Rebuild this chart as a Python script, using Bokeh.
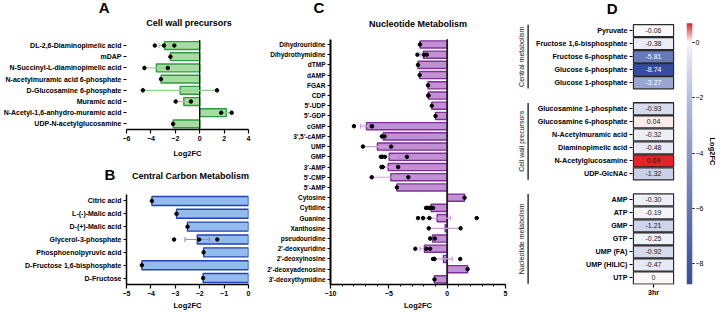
import numpy as np
from bokeh.plotting import figure
from bokeh.layouts import row, column
from bokeh.models import (ColumnDataSource, Range1d, FactorRange, FixedTicker,
                          SingleIntervalTicker, LinearColorMapper, Label)
from bokeh.transform import linear_cmap
from bokeh.core.properties import value
from bokeh.embed import file_html
from bokeh.resources import INLINE

FONT = "Liberation Sans"

# ---------------- Panel A: Cell wall precursors ----------------
a_names = ["DL-2,6-Diaminopimelic acid", "mDAP", "N-Succinyl-L-diaminopimelic acid",
           "N-acetylmuramic acid 6-phosphate", "D-Glucosamine 6-phosphate", "Muramic acid",
           "N-Acetyl-1,6-anhydro-muramic acid", "UDP-N-acetylglucosamine"]
a_mean = [-2.88, -2.40, -3.55, -3.17, -1.60, -1.30, 2.19, -2.18]
a_err = [0.45, 0.0, 0.96, 0.0, 3.05, 0.63, 0.43, 0.0]
a_points = [[-3.68, -2.93, -2.08], [-2.40], [-4.53, -2.61], [-3.17],
            [-4.66, 1.42], [-1.97, -0.72], [1.76, 2.62], [-2.18]]
a_ticks = [-6, -4, -2, 0, 2, 4]

# ---------------- Panel B: Central Carbon Metabolism ----------------
b_names = ["Citric acid", "L-(-)-Malic acid", "D-(+)-Malic acid", "Glycerol-3-phosphate",
           "Phosphoenolpyruvic acid", "D-Fructose 1,6-bisphosphate", "D-Fructose"]
b_mean = [-3.96, -2.95, -2.50, -2.10, -1.84, -4.37, -1.86]
b_err = [0.0, 0.0, 0.0, 0.50, 0.0, 0.0, 0.0]
b_points = [[-3.96], [-2.95], [-2.50], [-3.05, -2.02, -1.28], [-1.84], [-4.37], [-1.86]]
b_ticks = [-5, -4, -3, -2, -1, 0]

# ---------------- Panel C: Nucleotide Metabolism ----------------
c_names = ["Dihydrouridine", "Dihydrothymidine", "dTMP", "dAMP", "FGAR", "CDP", "5'-UDP",
           "5'-GDP", "cGMP", "3',5'-cAMP", "UMP", "GMP", "3'-AMP", "5'-CMP", "5'-AMP",
           "Cytosine", "Cytidine", "Guanine", "Xanthosine", "pseudouridine",
           "2'-deoxyuridine", "2'-deoxyinosine", "2'-deoxyadenosine", "3'-deoxythymidine"]
c_mean = [-2.33, -2.04, -2.50, -2.36, -1.64, -1.61, -1.32, -1.00, -6.92, -5.49, -5.98, -4.97,
          -5.06, -4.83, -4.31, 1.49, -1.38, -0.86, -0.17, -1.26, -1.95, -0.32, 1.75, -1.09]
c_err = [0, 0.24, 0, 0, 0, 0, 0, 0, 0.51, 0.12, 1.21, 0.53, 0.46, 1.57, 0, 0, 0.11, 1.16,
         1.37, 0.20, 0.38, 0.76, 0, 0]
c_points = [[-2.33], [-2.55, -1.98, -1.75], [-2.50], [-2.36], [-1.64], [-1.61, -1.61],
            [-1.32], [-1.00], [-7.99, -6.45, -6.45], [-5.60, -5.37], [-7.22, -4.80],
            [-5.60, -5.34, -5.69, -3.45], [-5.52, -5.63, -4.20], [-6.47, -3.33], [-4.31],
            [1.49], [-1.66, -1.35, -1.81, -1.44, -1.21], [-2.50, -2.07, -1.52, 2.53],
            [-1.58, 1.15], [-1.46, -1.06], [-2.73, -1.78, -1.46], [-1.09, -1.21, 1.12],
            [1.75], [-1.09]]

# ---------------- Panel D: heatmap ----------------
d_groups = ["Central metabolism", "Cell wall precursors", "Nucleotide metabolism"]
d_central = ["Pyruvate", "Fructose 1,6-bisphosphate", "Fructose 6-phosphate",
             "Glucose 6-phosphate", "Glucose 1-phosphate"]
d_central_vals = [-0.06, -0.38, -5.81, -8.74, -3.27]
d_cellwall = ["Glucosamine 1-phosphate", "Glucosamine 6-phosphate", "N-Acetylmuramic acid",
              "Diaminopimelic acid", "N-Acetylglucosamine", "UDP-GlcNAc"]
d_cellwall_vals = [-0.93, 0.04, -0.32, -0.48, 0.69, -1.32]
d_nucleo = ["AMP", "ATP", "GMP", "GTP", "UMP (FA)", "UMP (HILIC)", "UTP"]
d_nucleo_vals = [-0.30, -0.19, -1.21, -0.25, -0.92, -0.47, 0.0]
d_column = "3hr"
d_cbar_ticks = [-8, -6, -4, -2, 0]

TOP = 18  # common top border of the top-row figures (holds the panel letter)


def side_label(p, x, y, text, size):
    p.add_layout(Label(x=x, y=y, x_units="screen", y_units="screen", text=text,
                       text_font=FONT, text_font_size=size, text_font_style="bold",
                       text_color="black", text_align="center", text_baseline="middle"),
                 "above")


def frame_label(p, x, y, text, size):
    p.add_layout(Label(x=x, y=y, x_units="screen", y_units="screen", text=text,
                       text_font=FONT, text_font_size=size, text_font_style="bold",
                       text_color="black", text_align="center", text_baseline="middle"))


def style_axes(p, ylab_size, yline_width, xlab_standoff):
    for ax in p.xaxis:
        ax.major_label_text_font = FONT
        ax.major_label_text_font_size = "7px"
        ax.major_label_text_font_style = "bold"
        ax.major_label_text_color = "black"
        ax.major_label_standoff = 2
        ax.axis_label_text_font = FONT
        ax.axis_label_text_font_size = "7.5px"
        ax.axis_label_text_font_style = "bold"
        ax.axis_label_text_color = "black"
        ax.axis_label_standoff = xlab_standoff
        ax.axis_line_color = "black"
        ax.axis_line_width = 1.3
        ax.major_tick_line_color = "black"
        ax.major_tick_line_width = 1.2
        ax.major_tick_out = 4
        ax.major_tick_in = 0
        ax.minor_tick_line_color = None
    for ax in p.yaxis:
        ax.major_label_text_font = FONT
        ax.major_label_text_font_size = ylab_size
        ax.major_label_text_font_style = "bold"
        ax.major_label_text_color = "black"
        ax.major_label_standoff = 2
        ax.major_tick_line_color = "black"
        ax.major_tick_line_width = 1.1
        ax.major_tick_out = 3
        ax.major_tick_in = 0
        ax.minor_tick_line_color = None
        if yline_width:
            ax.axis_line_color = "black"
            ax.axis_line_width = yline_width
        else:
            ax.axis_line_color = None
    p.grid.visible = False
    p.outline_line_color = None


def bar_panel(names, means, errs, points, xr, w, h, borders, fill, edge, ecol,
              data_top_px=None, zero=None):
    bl, br, bt, bb = borders
    n = len(names)
    rows = list(range(n))
    ext = 0.0
    if data_top_px is not None:           # empty room between frame top and first bar row
        data_h = (h - bb) - data_top_px
        ext = n * (data_top_px - bt) / data_h
    p = figure(width=w, height=h, x_range=Range1d(*xr), y_range=Range1d(n - 0.5, -0.5 - ext),
               output_backend="svg", toolbar_location=None, title_location=None,
               min_border_left=bl, min_border_right=br, min_border_top=bt, min_border_bottom=bb)
    p.hbar(y=rows, left=0, right=means, height=0.7, fill_color=fill, line_color=edge,
           line_width=1.4)
    if zero:
        p.segment(x0=[0], y0=[-0.5], x1=[0], y1=[n - 0.5], line_color=zero[0],
                  line_width=zero[1])
    er = [r for r, e in zip(rows, errs) if e > 0]
    lo = [m - e for m, e in zip(means, errs) if e > 0]
    hi = [m + e for m, e in zip(means, errs) if e > 0]
    p.segment(x0=lo, y0=er, x1=hi, y1=er, line_color=ecol, line_width=1.2)
    p.scatter(x=lo + hi, y=er + er, marker="dash", angle=np.pi / 2, size=5,
              line_color=ecol, line_width=1.2)
    px = [v for pts in points for v in pts]
    py = [r for r, pts in zip(rows, points) for _ in pts]
    p.scatter(x=px, y=py, size=3.5, fill_color="black", line_color="black")
    p.yaxis.ticker = FixedTicker(ticks=rows)
    p.yaxis.major_label_overrides = {r: nm for r, nm in zip(rows, names)}
    p.yaxis.bounds = (-0.5, n - 0.5)
    return p


# ---- A ----
pA = bar_panel(a_names, a_mean, a_err, a_points, (a_ticks[0], a_ticks[-1]), 255, 160,
               (123, 7, TOP, 28), "#a8dba2", "#2e9b40", "#8fd489", data_top_px=40,
               zero=("black", 1.2))
pA.xaxis.ticker = FixedTicker(ticks=a_ticks)
pA.xaxis.axis_label = "Log2FC"
style_axes(pA, "7px", 0, 5)
side_label(pA, -22.3, TOP - 7, "A", "15px")
frame_label(pA, 62.5, 132 - 25, "Cell wall precursors", "9px")

# ---- B ----
pB = bar_panel(b_names, b_mean, b_err, b_points, (b_ticks[0], b_ticks[-1]), 255, 152,
               (122, 5, 34, 26), "#93bbec", "#2143b5", "#8a8fdc")
pB.xaxis.ticker = FixedTicker(ticks=b_ticks)
pB.xaxis.axis_label = "Log2FC"
style_axes(pB, "7px", 1.5, 2)
side_label(pB, -16.5, 20, "B", "15px")
side_label(pB, 64, 2, "Central Carbon Metabolism", "9px")

# ---- C ----
pC = bar_panel(c_names, c_mean, c_err, c_points, (-10, 5), 255, 312,
               (75, 5, TOP, 26), "#c490d4", "#7f2f9c", "#d29be0", data_top_px=39,
               zero=("#222222", 1.8))
pC.xaxis.ticker = SingleIntervalTicker(interval=5, num_minor_ticks=5)
pC.xaxis.axis_label = "Log2FC"
style_axes(pC, "6.5px", 2, 2)
pC.xaxis.minor_tick_line_color = "black"
pC.xaxis.minor_tick_out = 2
pC.xaxis.minor_tick_in = 0
side_label(pC, -11.7, TOP - 7, "C", "15px")
frame_label(pC, 87.5, 286 - 25, "Nucleotide Metabolism", "9px")

# ---- D ----
names, vals, slots, groups_span = [], [], [], []
slot = 0
for g, gn, gv in zip(d_groups, [d_central, d_cellwall, d_nucleo],
                     [d_central_vals, d_cellwall_vals, d_nucleo_vals]):
    first = slot
    for n_, v in zip(gn, gv):
        names.append(n_)
        vals.append(v)
        slots.append(slot)
        slot += 1
    groups_span.append((g, first, slot - 1))
    slot += 1
n_slots = slot - 1
cells_top, cells_bottom = 24, 298
d_ext = n_slots * (cells_top - TOP) / (cells_bottom - cells_top)
yr = Range1d(n_slots - 0.5, -0.5 - d_ext)

low, high = min(vals), max(vals)
blue = (54, 76, 163)
red = (230, 33, 40)
pal = []
for i in range(256):
    v = low + (high - low) * i / 255.0
    if v < 0:
        t, c = (v / low) ** 0.7, blue
    else:
        t, c = (v / high), red
    pal.append("#%02x%02x%02x" % tuple(int(round(255 + (c[k] - 255) * t)) for k in range(3)))
mapper = LinearColorMapper(palette=pal, low=low, high=high)

src = ColumnDataSource(dict(
    col=[d_column] * len(vals), slot=slots, val=vals,
    label=["0" if v == 0 else "%.2f" % v for v in vals],
    tcolor=["white" if v < -3 else "#222222" for v in vals]))

# group labels
pG = figure(width=22, height=312, x_range=Range1d(0, 1), y_range=yr,
            x_axis_type=None, y_axis_type=None, output_backend="svg", toolbar_location=None,
            title_location=None,
            min_border_left=0, min_border_right=0, min_border_top=TOP, min_border_bottom=14)
pG.outline_line_color = None
gx = [0.5] * len(groups_span)
gy = [(f + l) / 2.0 for _, f, l in groups_span]
pG.text(x=gx, y=gy, text=[g for g, _, _ in groups_span], angle=np.pi / 2,
        text_align="center", text_baseline="middle", text_font=value(FONT),
        text_font_size=value("7px"), text_color="#111111")
pG.segment(x0=[0.8] * len(groups_span), y0=[f - 0.45 for _, f, _ in groups_span],
           x1=[0.8] * len(groups_span), y1=[l + 0.45 for _, _, l in groups_span],
           line_color="black", line_width=1.2)

# heatmap
pH = figure(width=154, height=312, x_range=FactorRange(factors=[d_column]), y_range=yr,
            output_backend="svg", toolbar_location=None, title_location=None,
            min_border_left=100, min_border_right=12, min_border_top=TOP, min_border_bottom=14)
pH.rect(x="col", y="slot", width=0.96, height=0.93, source=src,
        fill_color=linear_cmap("val", pal, low, high), line_color="#2a2a2a", line_width=1.3)
pH.text(x="col", y="slot", text="label", text_color="tcolor", text_align="center",
        text_baseline="middle", text_font=value(FONT), text_font_size=value("7px"), source=src)
pH.yaxis.ticker = FixedTicker(ticks=slots)
pH.yaxis.major_label_overrides = {s: n_ for s, n_ in zip(slots, names)}
style_axes(pH, "7.2px", 0, 2)
pH.xaxis.axis_line_color = None
pH.xaxis.major_tick_out = 3
pH.xaxis.major_label_standoff = 1
side_label(pH, -20.3, TOP - 7.5, "D", "15px")

# colour bar
cb_top, cb_bottom = 23, 298
cb_ext = (high - low) * (cb_top - TOP) / (cb_bottom - cb_top)
pCB = figure(width=34, height=312, x_range=Range1d(0, 1), y_range=Range1d(low, high + cb_ext),
             x_axis_type=None, y_axis_location="right", output_backend="svg",
             toolbar_location=None, title_location=None, min_border_left=0,
             min_border_right=21, min_border_top=TOP, min_border_bottom=312 - cb_bottom)
grad = np.linspace(low, high, 256).reshape(256, 1)
pCB.image(image=[grad], x=0, y=low, dw=1, dh=high - low, color_mapper=mapper)
pCB.yaxis.ticker = FixedTicker(ticks=d_cbar_ticks)
pCB.yaxis.axis_label = "Log2FC"
pCB.grid.visible = False
pCB.outline_line_color = None
for ax in pCB.yaxis:
    ax.axis_line_color = None
    ax.major_tick_out = 2
    ax.major_tick_in = 0
    ax.minor_tick_line_color = None
    ax.major_tick_line_color = "black"
    ax.major_label_text_font = FONT
    ax.major_label_text_font_size = "7px"
    ax.major_label_text_color = "black"
    ax.major_label_standoff = 1
    ax.axis_label_text_font = FONT
    ax.axis_label_text_font_size = "7.5px"
    ax.axis_label_text_font_style = "bold"
    ax.axis_label_text_color = "black"
    ax.axis_label_standoff = 2

layout = row(column(pA, pB), pC, pG, pH, pCB)
open("out.html", "w").write(file_html(layout, INLINE))
